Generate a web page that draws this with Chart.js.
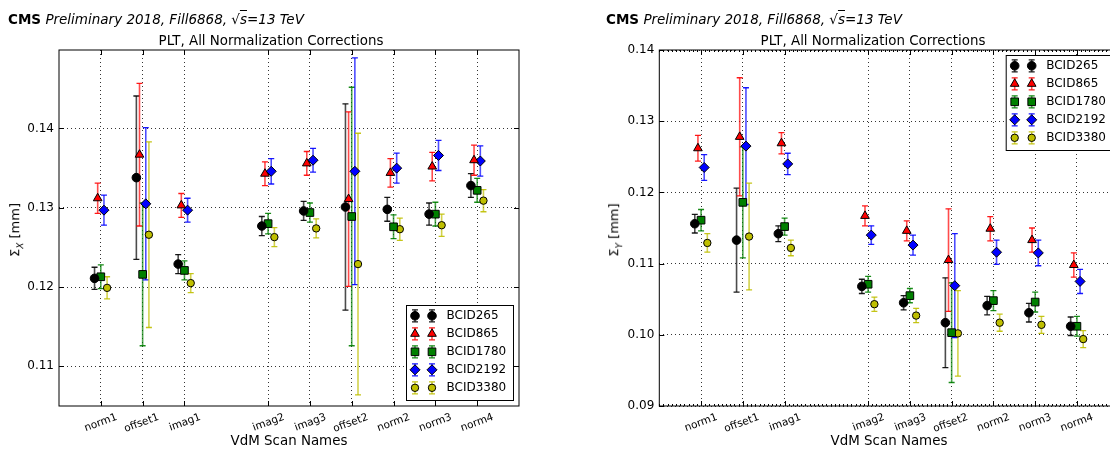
<!DOCTYPE html>
<html>
<head>
<meta charset="utf-8">
<script src="https://cdn.jsdelivr.net/npm/chart.js@4.4.1/dist/chart.umd.min.js"></script>
<style>
  body { margin: 0; width: 1110px; height: 450px; overflow: hidden; background: #fff;
         position: relative; font-family: "DejaVu Sans", sans-serif; color: #000; }
  #leftChart { position: absolute; left: 0; top: 0; }
  #rightChart { position: absolute; left: 555px; top: 0; }
  .cms { position: absolute; top: 11px; font-size: 13.5px; line-height: 16px; white-space: nowrap; }
  .cms b { font-weight: bold; }
  .cms i { font-style: italic; }
  .ptitle { position: absolute; top: 33px; font-size: 13.4px; line-height: 16px; white-space: nowrap;
            transform: translateX(-50%); }
  .ylab { position: absolute; font-size: 13px; white-space: nowrap;
          transform: translate(-50%, -50%) rotate(-90deg); }
  .ylab sub { font-size: 9px; font-style: italic; }
</style>
</head>
<body>
<canvas id="leftChart" width="555" height="450"></canvas>
<canvas id="rightChart" width="580" height="450"></canvas>

<div class="cms" style="left:8px"><b>CMS</b> <i>Preliminary 2018, Fill6868, √<span style="text-decoration:overline">s</span>=13 TeV</i></div>
<div class="cms" style="left:606px"><b>CMS</b> <i>Preliminary 2018, Fill6868, √<span style="text-decoration:overline">s</span>=13 TeV</i></div>
<div class="ptitle" style="left:271px">PLT, All Normalization Corrections</div>
<div class="ptitle" style="left:873px">PLT, All Normalization Corrections</div>
<div class="ylab" style="left:16px; top:230px">Σ<sub>X</sub> [mm]</div>
<div class="ylab" style="left:615px; top:230px">Σ<sub>Y</sub> [mm]</div>

<script>
// scans and their position on the x axis (gap between imag1 and imag2)
const scanNames = ['norm1', 'offset1', 'imag1', 'imag2', 'imag3', 'offset2', 'norm2', 'norm3', 'norm4'];
const scanPos = [1, 2, 3, 5, 6, 7, 8, 9, 10];
const bcidNames = ['BCID265', 'BCID865', 'BCID1780', 'BCID2192', 'BCID3380'];

// Sigma X [mm]
const sigX265 = [0.1211, 0.1338, 0.1229, 0.1277, 0.1296, 0.1301, 0.1298, 0.1292, 0.1328];
const sigX265Err = [0.0014, 0.0103, 0.0012, 0.0012, 0.0012, 0.0130, 0.0015, 0.0014, 0.0015];
const sigX865 = [0.1312, 0.1367, 0.1303, 0.1343, 0.1356, 0.1311, 0.1344, 0.1352, 0.1360];
const sigX865Err = [0.0019, 0.0090, 0.0015, 0.0015, 0.0015, 0.0110, 0.0018, 0.0018, 0.0019];
const sigX1780 = [0.1213, 0.1216, 0.1221, 0.1280, 0.1294, 0.1289, 0.1276, 0.1292, 0.1322];
const sigX1780Err = [0.0015, 0.0090, 0.0012, 0.0013, 0.0012, 0.0163, 0.0015, 0.0015, 0.0015];
const sigX2192 = [0.1297, 0.1305, 0.1297, 0.1346, 0.1360, 0.1346, 0.1350, 0.1366, 0.1359];
const sigX2192Err = [0.0019, 0.0096, 0.0015, 0.0016, 0.0015, 0.0143, 0.0019, 0.0019, 0.0019];
const sigX3380 = [0.1199, 0.1266, 0.1205, 0.1263, 0.1274, 0.1229, 0.1273, 0.1278, 0.1309];
const sigX3380Err = [0.0014, 0.0117, 0.0012, 0.0012, 0.0012, 0.0165, 0.0014, 0.0014, 0.0014];

// Sigma Y [mm]
const sigY265 = [0.1156, 0.1133, 0.1142, 0.1068, 0.1045, 0.1017, 0.1041, 0.1031, 0.1012];
const sigY265Err = [0.0013, 0.0073, 0.0011, 0.0010, 0.0010, 0.0063, 0.0013, 0.0013, 0.0013];
const sigY865 = [0.1262, 0.1278, 0.1269, 0.1167, 0.1146, 0.1105, 0.1149, 0.1133, 0.1098];
const sigY865Err = [0.0018, 0.0083, 0.0015, 0.0014, 0.0014, 0.0072, 0.0017, 0.0017, 0.0017];
const sigY1780 = [0.1161, 0.1186, 0.1152, 0.1071, 0.1055, 0.1003, 0.1048, 0.1046, 0.1012];
const sigY1780Err = [0.0015, 0.0078, 0.0012, 0.0011, 0.0010, 0.0070, 0.0014, 0.0014, 0.0014];
const sigY2192 = [0.1235, 0.1265, 0.1240, 0.1140, 0.1126, 0.1069, 0.1116, 0.1115, 0.1075];
const sigY2192Err = [0.0018, 0.0082, 0.0015, 0.0013, 0.0014, 0.0073, 0.0017, 0.0018, 0.0017];
const sigY3380 = [0.1129, 0.1138, 0.1122, 0.1043, 0.1027, 0.1002, 0.1017, 0.1014, 0.0994];
const sigY3380Err = [0.0013, 0.0075, 0.0011, 0.0010, 0.0010, 0.0060, 0.0012, 0.0012, 0.0012];

const yTicksX = [0.11, 0.12, 0.13, 0.14];
const yTicksY = [0.09, 0.10, 0.11, 0.12, 0.13, 0.14];

// marker look per BCID (matplotlib ko r^ gs bD yo)
const seriesStyle = [
  { rgb: '0,0,0',     point: 'circle',   r: 4.3, dx: -0.15 },
  { rgb: '255,0,0',   point: 'triangle', r: 5.0, dx: -0.075 },
  { rgb: '0,128,0',   point: 'rect',     r: 5.4, dx: 0 },
  { rgb: '0,0,255',   point: 'rectRot',  r: 5.0, dx: 0.075 },
  { rgb: '191,191,0', point: 'circle',   r: 3.7, dx: 0.15 }
];

Chart.defaults.font.family = '"DejaVu Sans", sans-serif';
Chart.defaults.color = '#000';

function makeDatasets(vals, errs) {
  return vals.map(function (v, k) {
    const st = seriesStyle[k];
    return {
      label: bcidNames[k],
      data: scanPos.map(function (p, i) { return { x: p + st.dx, y: v[i], err: errs[k][i] }; }),
      showLine: false,
      pointStyle: st.point,
      pointRadius: st.r,
      backgroundColor: 'rgb(' + st.rgb + ')',
      borderColor: '#000',
      pointBorderWidth: 1
    };
  });
}

// error bars, drawn under the markers
const errorBars = {
  id: 'errorBars',
  beforeDatasetsDraw(chart) {
    const ctx = chart.ctx, xs = chart.scales.x, ys = chart.scales.y, a = chart.chartArea;
    ctx.save();
    ctx.beginPath();
    ctx.rect(a.left, a.top, a.right - a.left, a.bottom - a.top);
    ctx.clip();
    chart.data.datasets.forEach(function (ds, k) {
      const st = seriesStyle[k];
      ds.data.forEach(function (p) {
        const px = xs.getPixelForValue(p.x);
        const top = ys.getPixelForValue(p.y + p.err);
        const bot = ys.getPixelForValue(p.y - p.err);
        ctx.strokeStyle = 'rgba(' + st.rgb + ',0.7)';
        ctx.lineWidth = 1.6;
        ctx.beginPath();
        ctx.moveTo(px, top); ctx.lineTo(px, bot);
        ctx.stroke();
        ctx.strokeStyle = 'rgba(' + st.rgb + ',0.9)';
        ctx.lineWidth = 1.3;
        ctx.beginPath();
        ctx.moveTo(px - 3, top); ctx.lineTo(px + 3, top);
        ctx.moveTo(px - 3, bot); ctx.lineTo(px + 3, bot);
        ctx.stroke();
      });
    });
    ctx.restore();
  }
};

// frame, inward ticks and the two-marker legend
const frameAndLegend = {
  id: 'frameAndLegend',
  afterDraw(chart, args, opts) {
    const ctx = chart.ctx, a = chart.chartArea, xs = chart.scales.x, ys = chart.scales.y;
    ctx.save();
    ctx.strokeStyle = '#000';
    ctx.lineWidth = 1;
    ctx.beginPath();
    xs.ticks.forEach(function (t) {
      const px = Math.round(xs.getPixelForValue(t.value)) + 0.5;
      ctx.moveTo(px, a.bottom); ctx.lineTo(px, a.bottom - 5);
      ctx.moveTo(px, a.top); ctx.lineTo(px, a.top + 5);
    });
    ys.ticks.forEach(function (t) {
      const py = Math.round(ys.getPixelForValue(t.value)) + 0.5;
      ctx.moveTo(a.left, py); ctx.lineTo(a.left + 5, py);
      ctx.moveTo(a.right, py); ctx.lineTo(a.right - 5, py);
    });
    if (opts.minorX) {
      for (let v = xs.min; v <= xs.max + 1e-9; v += 0.1) {
        const px = Math.round(xs.getPixelForValue(v)) + 0.5;
        ctx.moveTo(px, a.bottom); ctx.lineTo(px, a.bottom - 2);
        ctx.moveTo(px, a.top); ctx.lineTo(px, a.top + 2);
      }
    }
    ctx.stroke();
    ctx.strokeRect(a.left, a.top, a.right - a.left, a.bottom - a.top);

    // legend box
    const w = 107, h = 95, m = 5.5;
    const bx = a.right - m - w;
    const by = opts.corner === 'lower' ? a.bottom - m - h : a.top + m;
    ctx.fillStyle = '#fff';
    ctx.fillRect(bx, by, w, h);
    ctx.strokeRect(bx, by, w, h);
    ctx.font = '12px "DejaVu Sans", sans-serif';
    ctx.textBaseline = 'middle';
    ctx.textAlign = 'left';
    bcidNames.forEach(function (name, k) {
      const st = seriesStyle[k];
      const y = by + 10.3 + k * 18;
      [bx + 8.5, bx + 25.5].forEach(function (x) {
        ctx.strokeStyle = 'rgba(' + st.rgb + ',0.7)';
        ctx.lineWidth = 1.6;
        ctx.beginPath();
        ctx.moveTo(x, y - 6); ctx.lineTo(x, y + 6);
        ctx.stroke();
        ctx.strokeStyle = 'rgba(' + st.rgb + ',0.9)';
        ctx.lineWidth = 1.3;
        ctx.beginPath();
        ctx.moveTo(x - 3, y - 6); ctx.lineTo(x + 3, y - 6);
        ctx.moveTo(x - 3, y + 6); ctx.lineTo(x + 3, y + 6);
        ctx.stroke();
        ctx.fillStyle = 'rgb(' + st.rgb + ')';
        ctx.strokeStyle = '#000';
        ctx.lineWidth = 1;
        Chart.helpers.drawPoint(ctx, { pointStyle: st.point, radius: st.r, rotation: 0, borderWidth: 1 }, x, y);
      });
      ctx.fillStyle = '#000';
      ctx.fillText(name, bx + 40, y + 0.5);
    });
    ctx.restore();
  }
};

function makePanel(id, vals, errs, yTicks, yMin, yMax, yWidth, padRight, corner, minorX) {
  return new Chart(document.getElementById(id), {
    type: 'scatter',
    data: { datasets: makeDatasets(vals, errs) },
    plugins: [errorBars, frameAndLegend],
    options: {
      responsive: false,
      animation: false,
      events: [],
      layout: { padding: { top: 50, left: 0, right: padRight, bottom: 0 } },
      plugins: {
        legend: { display: false },
        tooltip: { enabled: false },
        frameAndLegend: { corner: corner, minorX: minorX }
      },
      scales: {
        x: {
          type: 'linear', min: 0, max: 11, z: 1,
          afterBuildTicks: function (s) { s.ticks = scanPos.map(function (v) { return { value: v }; }); },
          afterFit: function (s) { s.height = 44; },
          grid: { color: '#000', lineWidth: 0.8, drawTicks: false },
          border: { display: false, dash: [1, 3] },
          ticks: {
            autoSkip: false, minRotation: 20, maxRotation: 20, padding: 5, labelOffset: 16,
            font: { size: 10.5 },
            callback: function (v) { return scanNames[scanPos.indexOf(v)]; }
          },
          title: { display: true, text: 'VdM Scan Names', font: { size: 13.4 }, padding: { top: 0, bottom: 0 } }
        },
        y: {
          type: 'linear', min: yMin, max: yMax, z: 1,
          afterBuildTicks: function (s) { s.ticks = yTicks.map(function (v) { return { value: v }; }); },
          afterFit: function (s) { s.width = yWidth; },
          grid: { color: '#000', lineWidth: 0.8, drawTicks: false },
          border: { display: false, dash: [1, 3] },
          ticks: {
            padding: 5, font: { size: 12 },
            callback: function (v) { return v.toFixed(2); }
          }
        }
      }
    }
  });
}

makePanel('leftChart', [sigX265, sigX865, sigX1780, sigX2192, sigX3380],
  [sigX265Err, sigX865Err, sigX1780Err, sigX2192Err, sigX3380Err],
  yTicksX, 0.105, 0.1499, 59, 36, 'lower', false);

makePanel('rightChart', [sigY265, sigY865, sigY1780, sigY2192, sigY3380],
  [sigY265Err, sigY865Err, sigY1780Err, sigY2192Err, sigY3380Err],
  yTicksY, 0.09, 0.14, 104.3, 16.3, 'upper', true);
</script>
</body>
</html>
